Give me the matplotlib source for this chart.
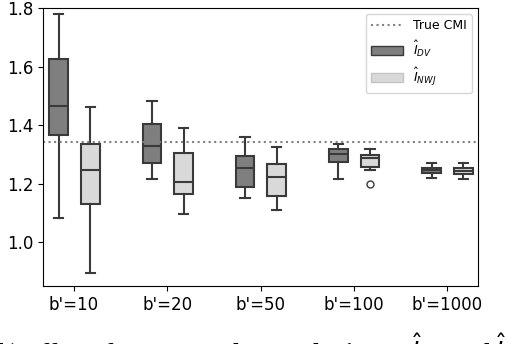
import matplotlib
matplotlib.use("Agg")
import matplotlib.pyplot as plt
from matplotlib.lines import Line2D
from matplotlib.patches import Patch

# data
labels = ["b'=10", "b'=20", "b'=50", "b'=100", "b'=1000"]
true_cmi = 1.342

# whislo, q1, med, q3, whishi
dv_stats = [
    [1.084, 1.367, 1.464, 1.625, 1.780],
    [1.215, 1.272, 1.328, 1.404, 1.481],
    [1.150, 1.190, 1.253, 1.293, 1.358],
    [1.216, 1.275, 1.302, 1.318, 1.335],
    [1.219, 1.236, 1.245, 1.254, 1.272],
]
nwj_stats = [
    [0.894, 1.130, 1.245, 1.334, 1.462],
    [1.097, 1.166, 1.204, 1.304, 1.390],
    [1.110, 1.156, 1.222, 1.266, 1.325],
    [1.247, 1.256, 1.289, 1.298, 1.319],
    [1.215, 1.234, 1.243, 1.252, 1.271],
]
nwj_fliers = [[], [], [], [1.199], []]

dark = "#7f7f7f"
light = "#d9d9d9"
edge = "#3a3a3a"


def make_stats(rows, fliers=None):
    out = []
    for i, r in enumerate(rows):
        out.append(dict(whislo=r[0], q1=r[1], med=r[2], q3=r[3], whishi=r[4],
                        fliers=fliers[i] if fliers else []))
    return out


fig = plt.figure(figsize=(5.08, 3.44), dpi=100)
ax = fig.add_axes([0.0846, 0.1686, 0.8564, 0.8081])

pos = list(range(len(labels)))
for stats, off, col in [(make_stats(dv_stats), -0.165, dark),
                        (make_stats(nwj_stats, nwj_fliers), 0.175, light)]:
    ax.bxp(stats, positions=[p + off for p in pos], widths=0.2,
           patch_artist=True, manage_ticks=False,
           boxprops=dict(facecolor=col, edgecolor=edge, linewidth=1.5),
           medianprops=dict(color=edge, linewidth=1.5),
           whiskerprops=dict(color=edge, linewidth=1.5),
           capprops=dict(color=edge, linewidth=1.5),
           flierprops=dict(marker="o", markerfacecolor="white",
                           markeredgecolor=edge, markersize=5))

ax.axhline(true_cmi, color="#808080", linestyle=":", linewidth=1.5)

ax.set_xticks(pos)
ax.set_xticklabels(labels)
ax.set_xlim(-0.333, 4.333)
ax.set_ylim(0.85, 1.8)
ax.set_yticks([1.0, 1.2, 1.4, 1.6, 1.8])
ax.tick_params(labelsize=12)

handles = [Line2D([], [], color="#808080", linestyle=":", linewidth=1.5),
           Patch(facecolor=dark, edgecolor=edge),
           Patch(facecolor=light, edgecolor="#c4c4c4")]
ax.legend(handles, ["True CMI", r"$\hat{I}_{DV}$", r"$\hat{I}_{NWJ}$"],
          loc="upper right", fontsize=9, handlelength=2.6, labelspacing=0.55)

# caption, mostly cut off by the image border (as in the reference)
fig.text(-0.005, 0.035, r"b) Effect of Monte Carlo sample size on $\hat{I}_{DV}$ and $\hat{I}_{NWJ}$",
         fontsize=17.5, fontweight="bold", family="Liberation Serif", va="top")

fig.savefig("out.png", dpi=100)
